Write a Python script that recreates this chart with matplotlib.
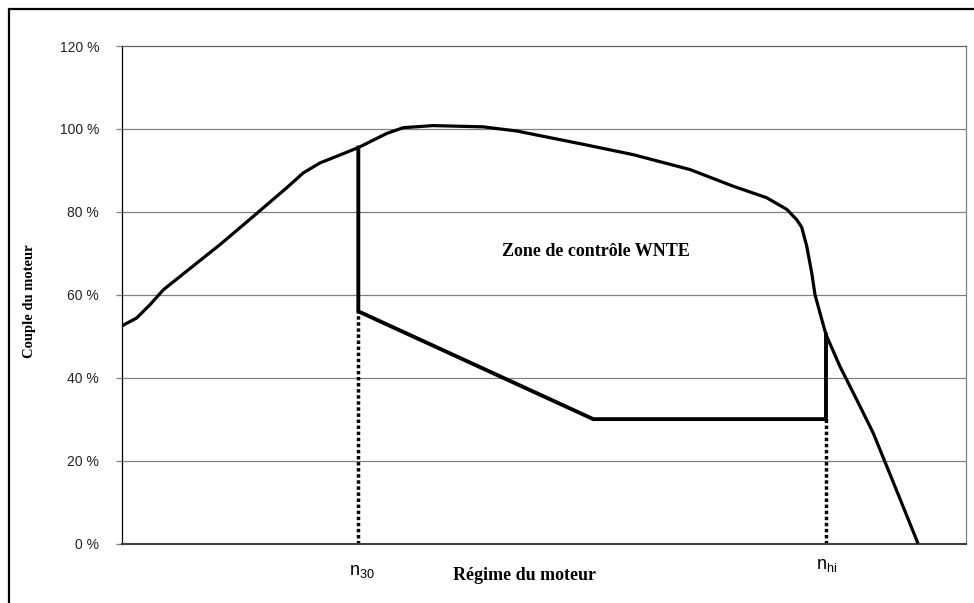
import matplotlib
matplotlib.use("Agg")
import matplotlib.pyplot as plt
from matplotlib.patches import Rectangle

plt.rcParams["font.family"] = ["Liberation Sans", "DejaVu Sans"]

# Full-load torque curve: engine speed (normalised, 0-100) vs torque (% of max)
speed = [0.0, 1.74, 3.32, 4.90, 7.67, 11.62, 15.56, 19.52, 21.49, 23.47, 25.45,
         28.01, 31.37, 33.34, 36.86, 42.79, 46.78, 54.64, 60.57, 67.32, 72.42,
         76.41, 78.79, 79.97, 80.56, 81.16, 81.75, 82.14, 82.73, 83.44, 85.10,
         87.08, 89.05, 91.23, 94.35]
torque = [52.5, 54.4, 57.6, 61.2, 65.7, 72.1, 78.9, 85.8, 89.4, 91.8, 93.4,
          95.5, 98.9, 100.3, 100.8, 100.5, 99.5, 96.3, 93.8, 90.2, 86.2,
          83.4, 80.6, 78.1, 76.3, 71.7, 65.3, 60.0, 55.6, 50.4, 42.7,
          34.7, 26.6, 15.7, 0.0]

# WNTE control zone boundary (lower part, closed by the torque curve)
n30 = 28.01
nhi = 83.44
zone_speed = [n30, n30, 55.86, nhi, nhi]
zone_torque = [95.5, 56.0, 30.0, 30.0, 50.4]

y_ticks = [0, 20, 40, 60, 80, 100, 120]
y_tick_labels = ["0 %", "20 %", "40 %", "60 %", "80 %", "100 %", "120 %"]

W, H = 974, 603
fig = plt.figure(figsize=(W / 100, H / 100), dpi=100)
fig.patch.set_facecolor("white")

left, right, top, bottom = 122, 965.7, 46, 543.5
ax = fig.add_axes([left / W, 1 - bottom / H, (right - left) / W, (bottom - top) / H])
ax.set_xlim(0, 100)
ax.set_ylim(0, 120)

# grid
for v in y_ticks[1:-1]:
    ax.axhline(v, color="#808080", lw=0.9, zorder=1)

ax.plot(speed, torque, color="black", lw=2.3, solid_joinstyle="round",
        solid_capstyle="butt", zorder=3)
ax.plot(zone_speed, zone_torque, color="black", lw=2.8, solid_joinstyle="miter",
        zorder=3)

# dotted speed markers
ax.plot([n30, n30], [0, zone_torque[1]], color="black", lw=2.5,
        linestyle=(0, (1, 0.75)), dash_capstyle="butt", zorder=2, clip_on=False)
ax.plot([nhi, nhi], [0, zone_torque[3]], color="black", lw=2.5,
        linestyle=(0, (1, 0.75)), dash_capstyle="butt", zorder=2, clip_on=False)

ax.set_yticks(y_ticks)
ax.set_yticklabels(y_tick_labels, fontsize=10, color="#222222")
ax.set_xticks([])
ax.tick_params(axis="y", direction="out", length=4.5, width=0.9, color="#808080",
               pad=12)

ax.spines["left"].set_color("black")
ax.spines["left"].set_linewidth(0.9)
ax.spines["bottom"].set_color("#404040")
ax.spines["bottom"].set_linewidth(1.5)
ax.spines["top"].set_color("#606060")
ax.spines["top"].set_linewidth(0.9)
ax.spines["right"].set_color("#808080")
ax.spines["right"].set_linewidth(0.9)

serif = ["Liberation Serif", "DejaVu Serif"]

ax.text(56.2, 70.4, "Zone de contrôle WNTE", family=serif, fontweight="bold",
        fontsize=13, ha="center", va="center")

fig.text(30 / W, 1 - 301 / H, "Couple du moteur", family=serif,
         fontweight="bold", fontsize=10.5, rotation=90, ha="center", va="center")
fig.text(524.5 / W, 1 - 575 / H, "Régime du moteur", family=serif,
         fontweight="bold", fontsize=13, ha="center", va="center")

fig.text(362 / W, 1 - 572 / H, r"$\mathregular{n_{30}}$", fontsize=13,
         ha="center", va="center")
fig.text(827 / W, 1 - 566 / H, r"$\mathregular{n_{hi}}$", fontsize=13,
         ha="center", va="center")

# outer chart frame (only its left and top edges fall inside the image)
fig.patches.append(Rectangle((8.5 / W, -0.2), 1.5, 1.2 - 9 / H,
                             transform=fig.transFigure, fill=False,
                             edgecolor="black", lw=1.6))

fig.savefig("out.png", dpi=100)
